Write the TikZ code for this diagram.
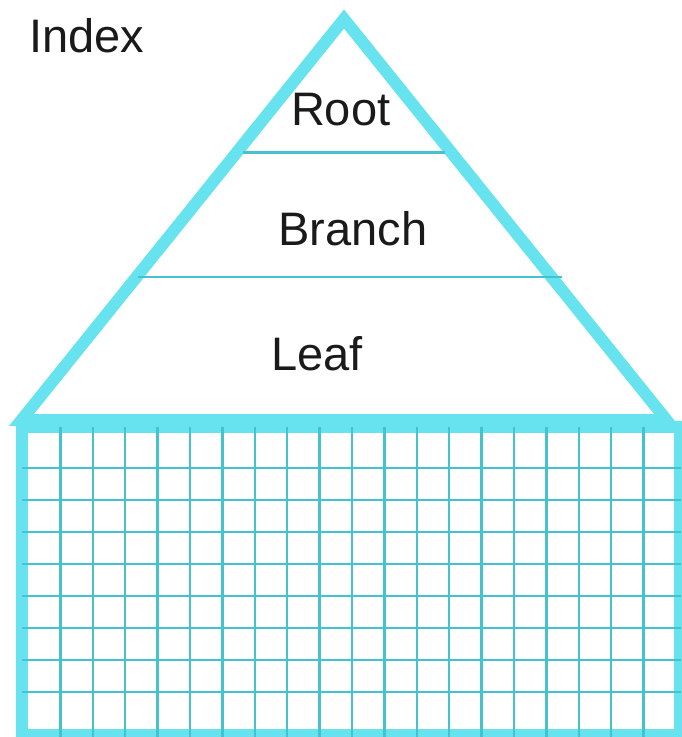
\documentclass[tikz,border=0pt]{standalone}
\usepackage{fontspec}
\setmainfont{Liberation Sans}
\definecolor{thickc}{RGB}{103,227,239}
\definecolor{thinc}{RGB}{68,195,207}
\definecolor{txt}{RGB}{26,26,26}
\begin{document}
\begin{tikzpicture}[x=1pt,y=-1pt,
  outline/.style={draw=thickc,line width=12pt,line join=miter},
  gridline/.style={draw=thinc,line width=2.4pt},
  lbl/.style={inner sep=0pt,anchor=base,text=txt,font=\fontsize{47}{56}\selectfont}]
\useasboundingbox (0,0) rectangle (682,737);
\clip (0,0) rectangle (682,737);
% rectangle
\draw[outline] (22,427) rectangle (680,735);
% triangle
\draw[outline] (21.5,420) -- (344,19) -- (666.5,420) -- cycle;
% grid inside the rectangle, drawn over its frame
\foreach \k in {0,...,18}{
  \draw[gridline] ({60.3+32.4*\k},427) -- ({60.3+32.4*\k},737);
}
\foreach \k in {0,...,7}{
  \draw[gridline] (22,{467.7+32*\k}) -- (681,{467.7+32*\k});
}
% layer lines in the triangle
\draw[gridline] (243,152.5) -- (445,152.5);
\draw[gridline] (138,277) -- (562,277);
% labels
\node[lbl] (index) at (87,52.7) {Index};
\node[lbl] (root) at (340.7,125.7) {Root};
\node[lbl] (branch) at (353,245) {Branch};
\node[lbl] (leaf) at (317,370.7) {Leaf};
\end{tikzpicture}
\end{document}
